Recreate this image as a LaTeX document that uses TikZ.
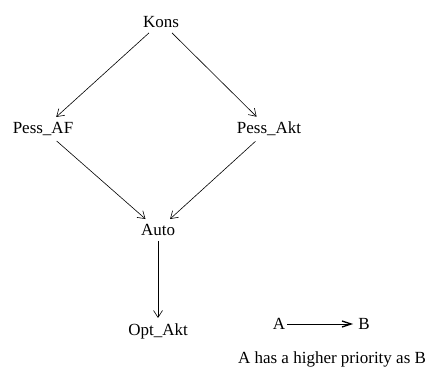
\documentclass[tikz,border=0pt]{standalone}
\usepackage{fontspec}
\setmainfont{Liberation Serif}
\usetikzlibrary{arrows.meta}

\begin{document}
\begin{tikzpicture}[x=1pt, y=1pt, line width=0.6pt,
  every node/.style={font=\fontsize{17}{20}\selectfont, inner sep=5pt},
  prio/.style={-{Straight Barb[length=7pt, width=9pt]}}]
\useasboundingbox (0, 0) rectangle (427, 367);
\node (kons)    at (161, 345) {Kons};
\node (pessaf)  at (43, 238)  {Pess\_AF};
\node (pessakt) at (269, 238) {Pess\_Akt};
\node (auto)    at (158, 137) {Auto};
\node (optakt)  at (158, 36)  {Opt\_Akt};
\draw [prio] (kons) -- (pessaf);
\draw [prio] (kons) -- (pessakt);
\draw [prio] (pessaf) -- (auto);
\draw [prio] (pessakt) -- (auto);
\draw [prio] (auto) -- (optakt);
% legend
\node (a) at (279, 43) [inner xsep=2pt] {A};
\node (b) at (364, 43) {B};
\draw [-{Straight Barb[length=9pt, width=6pt, line width=1.3pt]}] (a) -- (b);
\node (note) at (332, 8) {A has a higher priority as B};
\end{tikzpicture}
\end{document}
